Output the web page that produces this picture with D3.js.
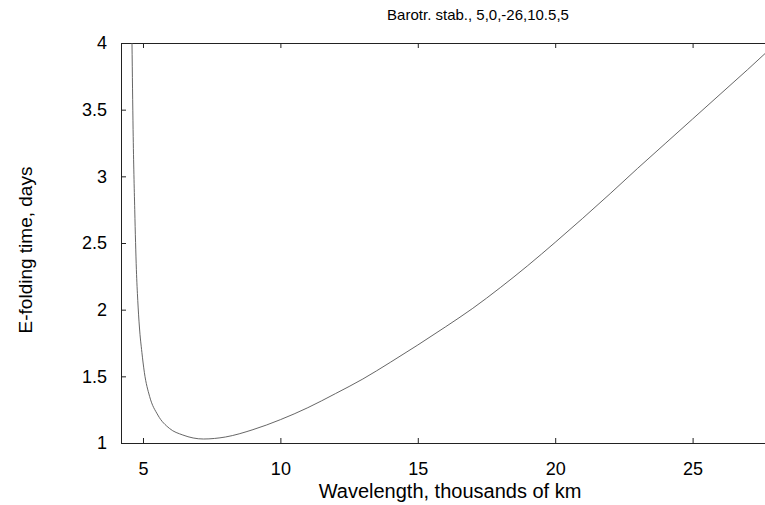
<!DOCTYPE html>
<html>
<head>
<meta charset="utf-8">
<script src="https://cdn.jsdelivr.net/npm/d3@7"></script>
<style>
  body { margin: 0; background: #fff; }
  text { font-family: Arial, 'Liberation Sans', sans-serif; fill: #000; }
</style>
</head>
<body>
<svg id="chart"></svg>
<script>
const TITLE = 'Barotr. stab., 5,0,-26,10.5,5'
const X_LABEL = 'Wavelength, thousands of km'
const Y_LABEL = 'E-folding time, days'

// wavelength (thousands of km) and e-folding time (days)
const wavelength = [4.60, 4.64, 4.70, 4.76, 4.81, 4.87, 4.96, 5.05, 5.24, 5.54, 5.96, 6.45, 7.2, 8, 9, 10,
  11, 12, 13, 14, 15, 16, 17, 18, 19, 20, 21, 22, 23, 24, 25, 26, 27, 28]
const efold = [4.0, 3.35, 2.75, 2.3, 2.07, 1.87, 1.68, 1.53, 1.35, 1.21, 1.11, 1.06, 1.03, 1.045, 1.10, 1.175,
  1.265, 1.37, 1.48, 1.605, 1.735, 1.87, 2.01, 2.165, 2.33, 2.505, 2.685, 2.87, 3.06, 3.245, 3.43, 3.615, 3.80, 3.99]

const xTicks = [5, 10, 15, 20, 25]
const yTicks = [1, 1.5, 2, 2.5, 3, 3.5, 4]

const width = 765
const height = 505
const margin = { top: 43, left: 121, bottom: 62 }
const plotRight = 830

const svg = d3.select('#chart')
  .attr('width', width)
  .attr('height', height)

const x = d3.scaleLinear().domain([4.2, 30]).range([margin.left, plotRight])
const y = d3.scaleLinear().domain([1, 4]).range([height - margin.bottom, margin.top])

svg.append('clipPath')
  .attr('id', 'plot-clip')
  .append('rect')
  .attr('x', margin.left)
  .attr('y', margin.top)
  .attr('width', plotRight - margin.left)
  .attr('height', y(1) - y(4))

// axes, ticks pointing inward like matlab
const tickLen = 5
svg.append('g')
  .attr('transform', `translate(0,${y(1)})`)
  .call(d3.axisBottom(x).tickValues(xTicks).tickSizeInner(-tickLen).tickSizeOuter(0).tickPadding(19))
  .call(g => g.selectAll('text').attr('font-size', '18px').attr('font-family', 'Arial, Liberation Sans, sans-serif'))
svg.append('g')
  .attr('transform', `translate(0,${y(4)})`)
  .call(d3.axisTop(x).tickValues(xTicks).tickSizeInner(-tickLen).tickSizeOuter(0).tickFormat(''))
svg.append('g')
  .attr('transform', `translate(${margin.left},0)`)
  .call(d3.axisLeft(y).tickValues(yTicks).tickSizeInner(-tickLen).tickSizeOuter(0).tickPadding(14).tickFormat(d3.format('')))
  .call(g => g.selectAll('text').attr('font-size', '18px').attr('font-family', 'Arial, Liberation Sans, sans-serif'))
svg.append('g')
  .attr('transform', `translate(${plotRight},0)`)
  .call(d3.axisRight(y).tickValues(yTicks).tickSizeInner(-tickLen).tickSizeOuter(0).tickFormat(''))

svg.selectAll('.domain').attr('stroke', '#222')
svg.selectAll('.tick line').attr('stroke', '#222')

const line = d3.line()
  .x((d, i) => x(wavelength[i]))
  .y(d => y(d))
  .curve(d3.curveMonotoneX)

svg.append('path')
  .datum(efold)
  .attr('clip-path', 'url(#plot-clip)')
  .attr('fill', 'none')
  .attr('stroke', '#555')
  .attr('stroke-width', 0.9)
  .attr('d', line)

svg.append('text')
  .attr('x', 478)
  .attr('y', 20)
  .attr('text-anchor', 'middle')
  .attr('font-size', '15px')
  .text(TITLE)

svg.append('text')
  .attr('x', 450)
  .attr('y', 498)
  .attr('text-anchor', 'middle')
  .attr('font-size', '20px')
  .text(X_LABEL)

svg.append('text')
  .attr('transform', `translate(32,250) rotate(-90)`)
  .attr('text-anchor', 'middle')
  .attr('font-size', '19px')
  .text(Y_LABEL)
</script>
</body>
</html>
